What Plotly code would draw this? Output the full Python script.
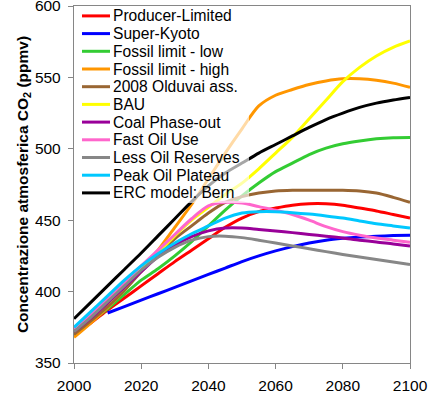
import plotly.graph_objects as go

# ---- data ----
years = list(range(2000, 2101, 5))
years_kyoto = list(range(2010, 2101, 5))

producer_limited = [370, 378, 387, 395.5, 404, 412.5, 421, 429, 437, 445, 451.5, 456, 458.5,
                    460.5, 461.5, 461.5, 460.5, 458.5, 456.5, 454, 451.5]
super_kyoto = [385, 389.5, 394, 398.5, 403, 407.5, 412, 416.5, 421, 425, 428.5, 431.5, 434,
               436, 437.3, 438.2, 438.8, 439.2, 439.5]
fossil_low = [370, 379, 388, 398, 408, 416, 425, 435, 446, 457, 467, 476, 484, 490, 496,
              500.5, 503.5, 505.5, 507, 507.8, 508]
fossil_high = [368, 378, 389, 401, 415, 429, 445, 461, 479, 497, 514, 530, 537.5, 541.5, 545,
               547.5, 549, 549, 548, 546, 543]
olduvai_2008 = [370, 379.5, 389.5, 401, 414, 426, 437, 446, 455, 462.5, 466.5, 469, 470.5,
                471, 471, 471, 471, 470.5, 469, 466, 462.5]
bau = [373, 382, 392, 403, 415, 427, 439, 450, 459, 468, 476, 486, 497, 508, 521, 534, 547,
       557, 565, 571, 575.5]
coal_phase_out = [372, 381.5, 392, 403, 414, 424.5, 432.5, 438.5, 442.5, 444.5, 444.5, 443.5,
                  442.5, 441.3, 440, 438.8, 437.5, 436, 434.8, 433.3, 432]
fast_oil_use = [374, 384, 395, 406.5, 418, 429, 440, 451, 460, 462.5, 462, 459.5, 457, 454,
                450, 445.5, 442, 439.5, 437.5, 436, 434.5]
less_oil_reserves = [372, 382, 393, 404, 415, 424, 431, 436, 438.5, 438.8, 437.8, 436, 434,
                     432, 430, 428, 426, 424.2, 422.5, 420.7, 419]
peak_oil_plateau = [375, 386, 397, 408, 418, 426.5, 434, 440.5, 446, 451.5, 455, 456, 456,
                    455.3, 454.3, 453, 451.5, 449.5, 447.5, 446, 444.5]
erc_bern = [381, 392.5, 404, 415.5, 427, 439, 451, 463, 474, 483, 490, 497, 503, 509, 515,
            520.5, 525, 529, 532, 534.2, 536]

names = ["Producer-Limited", "Super-Kyoto", "Fossil limit - low", "Fossil limit - high",
         "2008 Olduvai ass.", "BAU", "Coal Phase-out", "Fast Oil Use", "Less Oil Reserves",
         "Peak Oil Plateau", "ERC model: Bern"]
xs = [years, years_kyoto, years, years, years, years, years, years, years, years, years]
ys = [producer_limited, super_kyoto, fossil_low, fossil_high, olduvai_2008, bau,
      coal_phase_out, fast_oil_use, less_oil_reserves, peak_oil_plateau, erc_bern]
colors = ["#FF0000", "#0000FF", "#33CC33", "#FF9600", "#996633", "#FFFF00", "#990099",
          "#FF66CC", "#878787", "#00C8FF", "#000000"]

x_ticks = [2000, 2020, 2040, 2060, 2080, 2100]
y_ticks = [350, 400, 450, 500, 550, 600]

FONT = "Liberation Sans, Arial, sans-serif"

fig = go.Figure()
for n, x, y, c in zip(names, xs, ys, colors):
    fig.add_trace(go.Scatter(x=x, y=y, name=n, mode="lines",
                             line=dict(color=c, width=3, shape="spline", smoothing=0.8),
                             showlegend=False))

# ---- legend box (semi-transparent, over the lines) ----
W, H, L, T = 336, 357, 74, 6
def px_x(p): return (p - L) / W
def px_y(p): return 1 - (p - T) / H

shapes = [dict(type="rect", xref="paper", yref="paper", x0=px_x(75.5), x1=px_x(249),
               y0=px_y(203), y1=px_y(7), fillcolor="rgba(255,255,255,0.65)",
               line=dict(width=0), layer="above")]
annotations = []
for i, (n, c) in enumerate(zip(names, colors)):
    yy = px_y(15.9 + 17.7 * i)
    shapes.append(dict(type="line", xref="paper", yref="paper", x0=px_x(82), x1=px_x(110),
                       y0=yy, y1=yy, line=dict(color=c, width=3), layer="above"))
    annotations.append(dict(xref="paper", yref="paper", x=px_x(111), y=yy, text=n,
                            showarrow=False, xanchor="left", yanchor="middle",
                            font=dict(family=FONT, size=15.6, color="#000")))

fig.update_layout(
    width=435, height=395,
    margin=dict(l=L, r=25, t=T, b=32),
    paper_bgcolor="white", plot_bgcolor="white",
    font=dict(family=FONT, size=15, color="#000"),
    shapes=shapes, annotations=annotations,
    xaxis=dict(range=[2000, 2100], tickvals=x_ticks, ticks="outside", ticklen=5,
               tickcolor="#868686", showline=True, linecolor="#868686", linewidth=1.3,
               mirror=True, showgrid=False, zeroline=False, automargin=False,
               tickfont=dict(family=FONT, size=15.5), ticklabelstandoff=3,
               ticklabeloverflow="allow"),
    yaxis=dict(range=[350, 600], tickvals=y_ticks, ticks="outside", ticklen=5,
               tickcolor="#868686", showline=True, linecolor="#868686", linewidth=1.3,
               mirror=True, showgrid=False, zeroline=False, automargin=False,
               tickfont=dict(family=FONT, size=15.5), ticklabelstandoff=4,
               ticklabeloverflow="allow",
               title=dict(text="<b>Concentrazione atmosferica CO<sub>2</sub> (ppmv)</b>",
                          font=dict(family=FONT, size=15.5), standoff=2)),
)

fig.write_html("out.html", config={"displayModeBar": False},
               post_script="document.body.style.margin='0px';")
